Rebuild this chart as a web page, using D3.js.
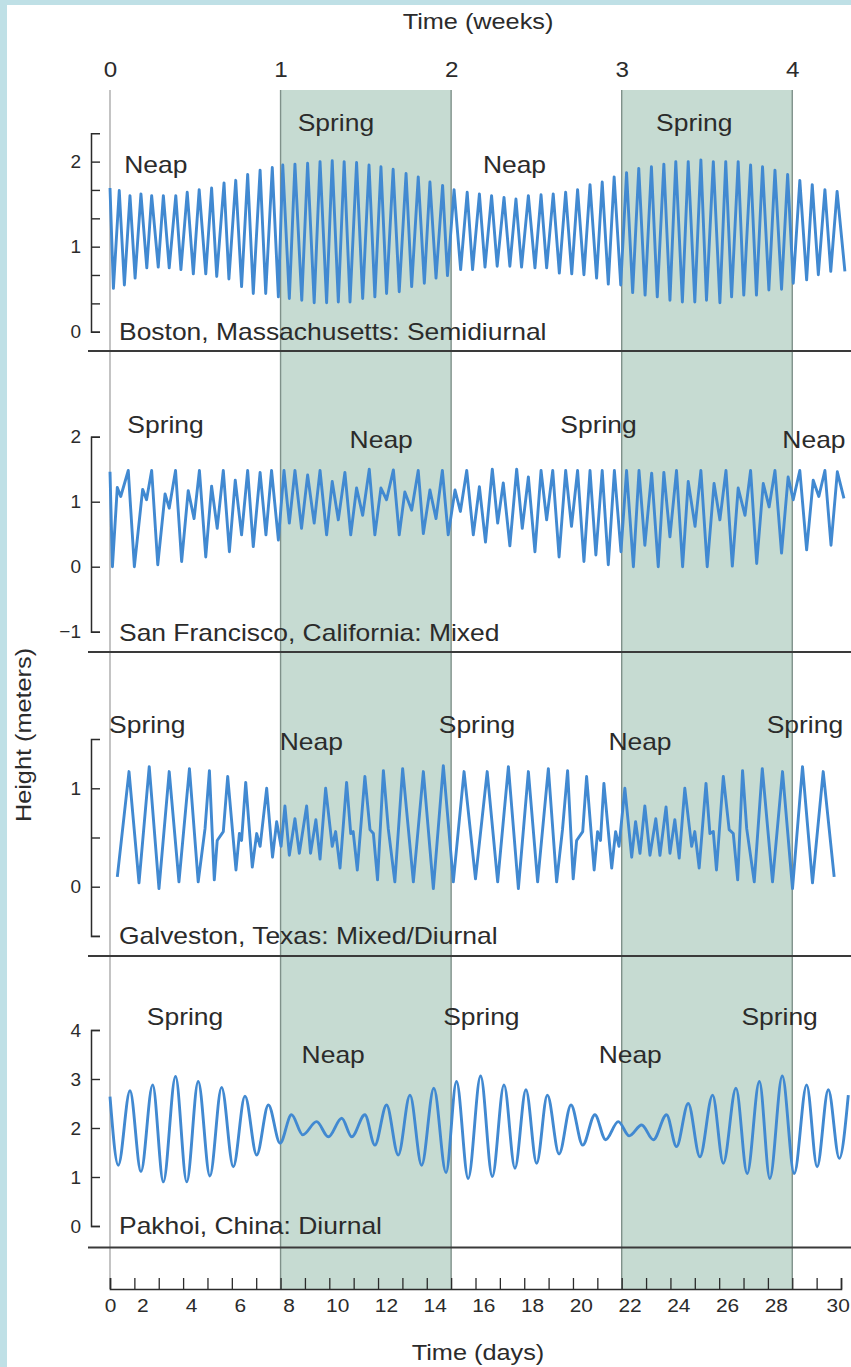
<!DOCTYPE html>
<html>
<head>
<meta charset="utf-8">
<script src="https://cdn.jsdelivr.net/npm/d3@7"></script>
<style>
  body { margin: 0; background: #ffffff; }
  svg { display: block; }
  text { font-family: "Liberation Sans", Arial, Helvetica, sans-serif; fill: #2b2b2b; }
</style>
</head>
<body>
<div id="tideChart"></div>
<script>

// tide curves: successive turning points, time in days, height in metres
const bostonDays = [0.00,0.14, 0.38,0.59, 0.82,1.03, 1.27,1.51, 1.71,1.98, 2.19,2.43, 2.70,2.91, 3.17,3.42, 3.66,3.93, 4.17,4.38,
    4.68,4.88, 5.16,5.40, 5.65,5.88, 6.16,6.39, 6.66,6.91, 7.09,7.36, 7.59,7.87, 8.11,8.38, 8.62,8.89, 9.12,9.37,
    9.61,9.85, 10.12,10.37, 10.63,10.87, 11.12,11.35, 11.62,11.87, 12.15,12.38, 12.65,12.90, 13.13,13.38, 13.65,13.85, 14.12,14.39,
    14.66,14.88, 15.16,15.39, 15.66,15.89, 16.17,16.41, 16.66,16.89, 17.17,17.44, 17.69,17.92, 18.19,18.44, 18.70,18.95, 19.19,19.45,
    19.70,19.97, 20.20,20.45, 20.69,20.96, 21.20,21.45, 21.70,21.96, 22.22,22.46, 22.73,22.98, 23.22,23.49, 23.73,24.00, 24.25,24.48,
    24.76,25.03, 25.27,25.51, 25.78,26.01, 26.29,26.53, 26.78,27.04, 27.29,27.56, 27.81,28.04, 28.31,28.59, 28.82,29.07, 29.34,29.58,
    29.84,30.16];
const bostonHeights = [1.69,0.51, 1.66,0.55, 1.60,0.63, 1.62,0.75, 1.60,0.76, 1.60,0.75, 1.60,0.73, 1.64,0.68, 1.67,0.68, 1.69,0.65,
    1.75,0.62, 1.78,0.53, 1.85,0.45, 1.90,0.45, 1.93,0.41, 1.96,0.39, 1.97,0.37, 1.98,0.34, 2.00,0.34, 2.01,0.35,
    2.00,0.35, 1.99,0.39, 1.96,0.41, 1.94,0.45, 1.91,0.47, 1.86,0.53, 1.82,0.57, 1.76,0.63, 1.72,0.66, 1.67,0.73,
    1.64,0.73, 1.62,0.76, 1.60,0.77, 1.58,0.77, 1.56,0.76, 1.60,0.75, 1.61,0.75, 1.62,0.69, 1.64,0.68, 1.67,0.67,
    1.73,0.63, 1.76,0.56, 1.82,0.55, 1.87,0.46, 1.92,0.43, 1.94,0.41, 1.97,0.37, 2.00,0.35, 2.00,0.35, 2.02,0.37,
    2.00,0.34, 2.00,0.41, 2.00,0.43, 1.96,0.43, 1.94,0.49, 1.90,0.50, 1.85,0.57, 1.78,0.61, 1.73,0.67, 1.67,0.71,
    1.65,0.71];

const sfDays = [0.00,0.10,0.30,0.44,0.75,1.00,1.34,1.50,1.71,1.96,2.26,2.43,2.69,2.94,3.21,3.45,3.67,3.93,4.17,4.40,
    4.65,4.90,5.14,5.40,5.65,5.88,6.16,6.40,6.63,6.91,7.14,7.36,7.59,7.86,8.11,8.38,8.62,8.89,9.12,9.37,
    9.64,9.88,10.12,10.37,10.64,10.87,11.12,11.35,11.63,11.87,12.10,12.38,12.65,12.86,13.13,13.38,13.64,13.88,14.16,14.38,
    14.64,14.91,15.16,15.41,15.69,15.91,16.14,16.41,16.69,16.92,17.17,17.44,17.69,17.92,18.17,18.43,18.70,18.94,19.19,19.45,
    19.70,19.94,20.20,20.45,20.70,20.97,21.20,21.48,21.71,21.95,22.23,22.50,22.73,22.98,23.25,23.50,23.73,24.01,24.25,24.51,
    24.79,25.03,25.28,25.54,25.78,26.06,26.29,26.54,26.81,27.05,27.29,27.56,27.83,28.04,28.31,28.59,28.86,29.09,29.34,29.59,
    29.85,30.12];
const sfHeights = [1.46,0.00,1.22,1.08,1.48,0.00,1.19,1.03,1.48,0.03,1.12,0.90,1.48,0.08,1.17,0.74,1.48,0.15,1.24,0.59,
    1.48,0.23,1.33,0.49,1.48,0.31,1.45,0.49,1.48,0.41,1.48,0.67,1.48,0.59,1.41,0.67,1.48,0.49,1.31,0.72,
    1.45,0.49,1.21,0.79,1.50,0.49,1.21,1.03,1.49,0.49,1.15,0.87,1.48,0.51,1.18,0.74,1.48,0.49,1.18,0.85,
    1.48,0.49,1.23,0.38,1.50,0.67,1.29,0.32,1.50,0.59,1.38,0.23,1.48,0.72,1.48,0.15,1.48,0.62,1.48,0.08,
    1.48,0.18,1.48,0.03,1.48,0.23,1.48,0.00,1.48,0.33,1.44,0.00,1.45,0.46,1.48,0.00,1.31,0.62,1.48,0.00,
    1.28,0.72,1.48,0.01,1.21,0.79,1.48,0.05,1.28,0.92,1.48,0.21,1.38,1.03,1.48,0.26,1.33,1.08,1.48,0.33,
    1.46,1.05];

const galvDays = [0.30,0.78,1.19,1.61,2.01,2.43,2.83,3.26,3.62,3.90,4.08,4.28,4.40,4.65,4.83,5.17,5.31,5.40,5.57,5.84,
    6.02,6.16,6.43,6.67,6.84,7.02,7.18,7.36,7.59,7.77,8.07,8.23,8.45,8.62,8.85,9.12,9.26,9.44,9.71,9.88,
    9.98,10.15,10.46,10.67,10.81,10.98,11.22,11.42,11.69,12.01,12.45,12.86,13.27,13.68,
    14.09,14.53,15.00,15.48,15.91,16.35,16.76,17.17,17.55,17.99,18.33,18.57,18.78,19.01,19.15,19.40,19.56,19.87,20.01,20.13,
    20.27,20.59,20.75,20.89,21.13,21.41,21.57,21.75,21.95,22.16,22.40,22.57,22.82,22.98,23.18,23.36,23.59,23.87,24.00,24.18,
    24.46,24.62,24.76,24.89,25.17,25.41,25.58,25.76,25.96,26.13,26.44,26.77,27.19,27.60,28.01,28.42,28.83,29.27,29.72];
const galvHeights = [0.10,1.17,0.04,1.22,-0.02,1.17,0.05,1.20,0.05,0.59,1.18,0.07,0.47,0.56,1.12,0.17,0.54,0.47,1.06,0.20,
    0.54,0.41,1.00,0.30,0.66,0.41,0.82,0.32,0.69,0.34,0.82,0.34,0.68,0.28,1.00,0.41,0.56,0.19,1.06,0.54,
    0.56,0.17,1.12,0.58,0.54,0.07,1.18,0.59,0.05,1.20,0.05,1.17,-0.02,1.23,
    0.05,1.17,0.08,1.17,0.05,1.22,-0.02,1.17,0.05,1.20,0.05,0.58,1.18,0.08,0.47,0.56,1.12,0.17,0.56,0.47,
    1.05,0.19,0.56,0.41,1.00,0.30,0.66,0.34,0.82,0.32,0.69,0.32,0.81,0.34,0.68,0.29,1.00,0.41,0.56,0.19,
    1.05,0.54,0.56,0.17,1.12,0.58,0.54,0.07,1.18,0.59,0.05,1.20,0.05,1.17,-0.02,1.22,0.04,1.17,0.10];

const pakDays = [0.00,0.34,0.82,1.27,1.75,2.19,2.69,3.15,3.62,4.10,4.58,5.06,5.54,6.02,6.50,6.98,7.45,7.91,8.48,8.96,
    9.51,9.92,10.46,10.87,11.35,11.83,12.31,12.79,13.29,13.79,14.22,14.70,15.21,15.69,16.17,16.62,17.07,17.51,17.95,18.43,
    18.92,19.40,19.90,20.34,20.86,21.31,21.82,22.30,22.84,23.25,23.73,24.21,24.73,25.17,25.69,26.15,26.65,27.08,27.59,28.08,
    28.59,29.02,29.48,29.93,30.30];
const pakHeights = [2.64,1.24,2.76,1.11,2.88,0.90,3.05,0.90,2.95,1.02,2.83,1.21,2.65,1.45,2.47,1.69,2.27,1.86,2.13,1.82,
    2.20,1.82,2.27,1.65,2.47,1.45,2.67,1.24,2.81,1.09,2.95,0.97,3.06,1.01,2.88,1.18,2.78,1.28,2.67,1.47,
    2.47,1.65,2.27,1.76,2.13,1.84,2.06,1.76,2.27,1.62,2.50,1.41,2.67,1.28,2.81,1.07,2.95,0.97,3.06,1.07,
    2.88,1.21,2.78,1.38,2.67];

// spring / neap annotations (centre day of each word)
const bostonPhases = ["Neap", "Spring", "Neap", "Spring"];
const bostonPhaseDays = [1.88, 9.27, 16.6, 23.98];
const sfPhases = ["Spring", "Neap", "Spring", "Neap"];
const sfPhaseDays = [2.28, 11.13, 20.05, 28.89];
const galvPhases = ["Spring", "Neap", "Spring", "Neap", "Spring"];
const galvPhaseDays = [1.53, 8.26, 15.06, 21.75, 28.52];
const pakPhases = ["Spring", "Neap", "Spring", "Neap", "Spring"];
const pakPhaseDays = [3.08, 9.16, 15.24, 21.35, 27.48];

// axes
const bostonTicks = [0, 0.333, 0.667, 1, 1.333, 1.667, 2];
const sfTicks = [-1, 0, 1, 2];
const galvTicks = [-0.5, 0, 0.5, 1];
const pakTicks = [0, 1, 2, 3, 4];
const dayTicks = [0,1,2,3,4,5,6,7,8,9,10,11,12,13,14,15,16,17,18,19,20,21,22,23,24,25,26,27,28,29,30];
const weekTicks = [0, 1, 2, 3, 4];
const springWeeks = [[1, 2], [3, 4]];


class TideChart {

    constructor(panels) {
        this.panels = panels;
        this.width = 851;
        this.height = 1367;
        this.top = 90;
        this.axisY = 1289;
        this.axisX = 91;

        this.x = d3.scaleLinear().domain([0, 30]).range([110, 841]);

        this.svg = d3.select("#tideChart")
            .append("svg")
            .attr("width", this.width)
            .attr("height", this.height)
            .style("background-color", "#ffffff");
    }

    //text a bit wider than the font, like the scanned figure
    label(g, str, x, y, size, anchor, rotate) {
        return g.append("text")
            .attr("transform", `translate(${x},${y})` + (rotate ? ` rotate(${rotate})` : "") + " scale(1.15,1)")
            .attr("text-anchor", anchor || "start")
            .style("font-size", size + "px")
            .text(str);
    }

    draw() {
        let svg = this.svg;
        let x = this.x;

        //light blue frame of the page
        svg.append("rect").attr("x", 0).attr("y", 0).attr("width", 7).attr("height", this.height).style("fill", "#bfe0e6");
        svg.append("rect").attr("x", 0).attr("y", 0).attr("width", this.width).attr("height", 5).style("fill", "#bfe0e6");

        //spring weeks shaded
        springWeeks.forEach(w => {
            svg.append("rect")
                .attr("x", x(w[0] * 7))
                .attr("y", this.top)
                .attr("width", x(w[1] * 7) - x(w[0] * 7))
                .attr("height", this.axisY - this.top)
                .style("fill", "#c6dbd2");
            w.forEach(k => {
                svg.append("line")
                    .attr("x1", x(k * 7)).attr("x2", x(k * 7))
                    .attr("y1", this.top).attr("y2", this.axisY)
                    .style("stroke", "#7f918a")
                    .style("stroke-width", 1.4);
            });
        });

        svg.append("line")
            .attr("x1", x(0)).attr("x2", x(0))
            .attr("y1", this.top).attr("y2", this.axisY)
            .style("stroke", "#9c9c9c")
            .style("stroke-width", 1.2);

        this.panels.forEach(p => this.drawPanel(p));

        //weeks on top
        let weekAxis = d3.axisTop(x).tickValues(weekTicks.map(w => w * 7)).tickFormat((d, i) => weekTicks[i]).tickSize(0).tickPadding(0);
        let wg = svg.append("g")
            .attr("transform", "translate(0,77)")
            .attr("font-family", null).attr("font-size", null)
            .attr("color", "#2b2b2b")
            .call(weekAxis);
        wg.select(".domain").remove();
        wg.selectAll("text").attr("dy", null).style("font-size", "22px").attr("transform", "scale(1.1,1)");

        //days at the bottom
        let dayAxis = d3.axisBottom(x)
            .tickValues(dayTicks)
            .tickFormat(d => d % 2 === 0 ? d : "")
            .tickSizeInner(-11)
            .tickSizeOuter(-11)
            .tickPadding(10);
        let dg = svg.append("g")
            .attr("transform", `translate(0,${this.axisY})`)
            .attr("font-family", null).attr("font-size", null)
            .attr("color", "#2b2b2b")
            .call(dayAxis);
        dg.select(".domain").style("stroke-width", 1.6);
        dg.selectAll(".tick line").style("stroke-width", 1.3);
        dg.selectAll("text")
            .style("font-size", "19px")
            .attr("x", d => d === 0 ? 0 : (d === 30 ? -3 : -15))
            .attr("transform", "scale(1.1,1)");

        this.label(svg, "Time (weeks)", 478, 29, 22, "middle");
        this.label(svg, "Time (days)", 478, 1360, 22, "middle");
        this.label(svg, "Height (meters)", 31, 735, 22, "middle", -90);
    }

    drawPanel(p) {
        let svg = this.svg;
        let x = this.x;
        let y = d3.scaleLinear().domain(p.domain).range(p.range);

        //separator under the panel
        svg.append("line")
            .attr("x1", 88).attr("x2", this.width)
            .attr("y1", p.lineY).attr("y2", p.lineY)
            .style("stroke", "#3a3a3a")
            .style("stroke-width", 2);

        let points = d3.zip(p.days, p.heights);
        let line = d3.line()
            .x(d => x(d[0]))
            .y(d => y(d[1]))
            .curve(p.curve);

        svg.append("path")
            .datum(points)
            .attr("d", line)
            .style("fill", "none")
            .style("stroke", "#4189d1")
            .style("stroke-width", 2.9)
            .style("stroke-linejoin", "round");

        //bracket axis, ticks pointing inwards
        let yAxis = d3.axisLeft(y)
            .tickValues(p.ticks)
            .tickFormat(d => Number.isInteger(d) ? d3.format("d")(d) : "")
            .tickSizeInner(-9)
            .tickSizeOuter(-9)
            .tickPadding(10);
        let g = svg.append("g")
            .attr("transform", `translate(${this.axisX},0)`)
            .attr("font-family", null).attr("font-size", null)
            .attr("color", "#2b2b2b")
            .call(yAxis);
        g.select(".domain").style("stroke-width", 1.5);
        g.selectAll(".tick line").style("stroke-width", 1.4);
        g.selectAll("text").style("font-size", "19px");

        p.phases.forEach((name, i) => {
            let py = name === "Spring" ? p.springY : p.neapY;
            this.label(svg, name, x(p.phaseDays[i]), py, 23, "middle");
        });

        this.label(svg, p.title, x(0) + 9, p.titleY, 23, "start");
    }
}


let panels = [
    {title: "Boston, Massachusetts: Semidiurnal", days: bostonDays, heights: bostonHeights,
        domain: [0, 2.333], range: [331.7, 133.3], ticks: bostonTicks, curve: d3.curveLinear,
        phases: bostonPhases, phaseDays: bostonPhaseDays, springY: 131, neapY: 173, titleY: 340, lineY: 351},
    {title: "San Francisco, California: Mixed", days: sfDays, heights: sfHeights,
        domain: [-1, 2], range: [631.7, 436.7], ticks: sfTicks, curve: d3.curveLinear,
        phases: sfPhases, phaseDays: sfPhaseDays, springY: 433, neapY: 448, titleY: 641, lineY: 652},
    {title: "Galveston, Texas: Mixed/Diurnal", days: galvDays, heights: galvHeights,
        domain: [-0.5, 1.5], range: [935.9, 739.1], ticks: galvTicks, curve: d3.curveLinear,
        phases: galvPhases, phaseDays: galvPhaseDays, springY: 733, neapY: 750, titleY: 944, lineY: 956},
    {title: "Pakhoi, China: Diurnal", days: pakDays, heights: pakHeights,
        domain: [0, 4], range: [1226, 1030], ticks: pakTicks, curve: d3.curveMonotoneX,
        phases: pakPhases, phaseDays: pakPhaseDays, springY: 1025, neapY: 1063, titleY: 1234, lineY: 1247.5}
];

let chart = new TideChart(panels);
chart.draw();

</script>
</body>
</html>
